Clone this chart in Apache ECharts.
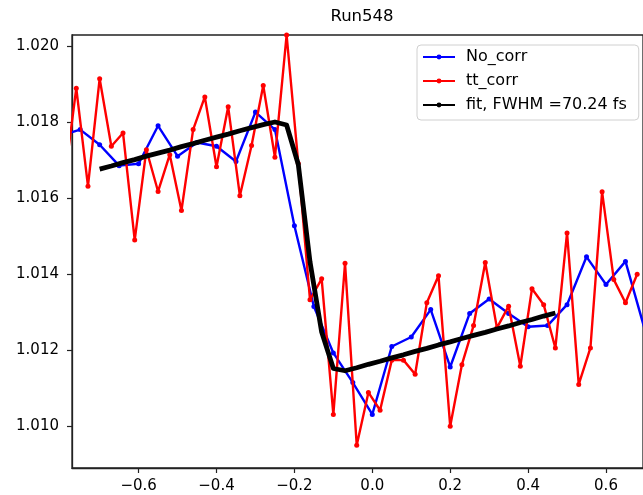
<!DOCTYPE html>
<html>
<head>
<meta charset="utf-8">
<script src="https://cdn.jsdelivr.net/npm/echarts@6/dist/echarts.min.js"></script>
<style>
html,body{margin:0;padding:0;background:#fff;}
#c{width:643px;height:495px;}
</style>
</head>
<body>
<div id="c"></div>
<script>
// --- data ---
const titleText = 'Run548';
const seriesNames = ['No_corr', 'tt_corr', 'fit, FWHM =70.24 fs'];

const noCorrX = [-0.80,-0.75,-0.70,-0.65,-0.60,-0.55,-0.50,-0.45,-0.40,-0.35,-0.30,-0.25,-0.20,-0.15,-0.10,-0.05,0.00,0.05,0.10,0.15,0.20,0.25,0.30,0.35,0.40,0.45,0.50,0.55,0.60,0.65,0.70];
const noCorrY = [1.01765,1.01781,1.01741,1.01686,1.01691,1.01791,1.01711,1.01747,1.01737,1.01697,1.01827,1.01781,1.01528,1.01315,1.01193,1.01115,1.01031,1.01210,1.01235,1.01307,1.01156,1.01297,1.01335,1.01297,1.01262,1.01265,1.01320,1.01446,1.01373,1.01434,1.01253];

const ttCorrX = [-0.79,-0.76,-0.73,-0.70,-0.67,-0.64,-0.61,-0.58,-0.55,-0.52,-0.49,-0.46,-0.43,-0.40,-0.37,-0.34,-0.31,-0.28,-0.25,-0.22,-0.19,-0.16,-0.13,-0.10,-0.07,-0.04,-0.01,0.02,0.05,0.08,0.11,0.14,0.17,0.20,0.23,0.26,0.29,0.32,0.35,0.38,0.41,0.44,0.47,0.50,0.53,0.56,0.59,0.62,0.65,0.68];
const ttCorrY = [1.01650,1.01890,1.01632,1.01915,1.01737,1.01772,1.01490,1.01728,1.01618,1.01715,1.01568,1.01781,1.01867,1.01683,1.01841,1.01607,1.01739,1.01897,1.01708,1.02030,1.01692,1.01333,1.01388,1.01031,1.01429,1.00950,1.01089,1.01042,1.01174,1.01174,1.01137,1.01325,1.01396,1.01000,1.01162,1.01265,1.01431,1.01259,1.01316,1.01158,1.01362,1.01320,1.01206,1.01509,1.01110,1.01206,1.01617,1.01386,1.01325,1.01400];

const fitX = [-0.70,-0.67,-0.64,-0.61,-0.58,-0.55,-0.52,-0.49,-0.46,-0.43,-0.40,-0.37,-0.34,-0.31,-0.28,-0.25,-0.22,-0.19,-0.16,-0.13,-0.10,-0.07,-0.04,-0.01,0.02,0.05,0.08,0.11,0.14,0.17,0.20,0.23,0.26,0.29,0.32,0.35,0.38,0.41,0.44,0.47];
const fitY = [1.01677,1.01685,1.01694,1.01702,1.01711,1.01719,1.01727,1.01736,1.01744,1.01753,1.01761,1.01769,1.01778,1.01786,1.01794,1.01801,1.01793,1.01689,1.01433,1.01248,1.01152,1.01146,1.01154,1.01163,1.01171,1.01180,1.01188,1.01197,1.01205,1.01214,1.01222,1.01231,1.01239,1.01247,1.01256,1.01264,1.01273,1.01281,1.01290,1.01298];

const xTicks = [-0.6,-0.4,-0.2,0.0,0.2,0.4,0.6];
const yTicks = [1.010,1.012,1.014,1.016,1.018,1.020];

const pairs = (xs, ys) => xs.map((x, i) => [x, ys[i]]);

const FONT = 'DejaVu Sans';
const chart = echarts.init(document.getElementById('c'), null, {renderer: 'canvas'});
const fmtX = v => { const r = Math.round(v * 10) / 10; return (r < 0 ? '\u2212' : '') + Math.abs(r).toFixed(1); };

chart.setOption({
  animation: false,
  backgroundColor: '#ffffff',
  title: {
    text: titleText,
    left: 357, top: 3,
    textAlign: 'center',
    textStyle: {fontFamily: FONT, fontSize: 16.5, fontWeight: 'normal', color: '#000'}
  },
  legend: {
    orient: 'vertical',
    left: 417, top: 45,
    padding: [4, 12, 7, 5],
    itemGap: 8,
    itemWidth: 32, itemHeight: 6,
    backgroundColor: 'rgba(255,255,255,0.85)',
    borderColor: '#d0d0d0', borderWidth: 1, borderRadius: 4,
    textStyle: {fontFamily: FONT, fontSize: 16, color: '#000', padding: [0, 0, 0, 6]},
    data: seriesNames
  },
  grid: {
    left: 72, top: 35, right: -1, bottom: 27,
    show: true, borderColor: '#222', borderWidth: 1.3, containLabel: false
  },
  xAxis: {
    type: 'value', min: -0.771, max: 0.695,
    axisLine: {show: true, onZero: false, lineStyle: {color: '#222', width: 1.3}},
    axisTick: {show: true, inside: false, length: 5, lineStyle: {color: '#222', width: 1.2}, customValues: xTicks},
    axisLabel: {show: true, margin: 11, fontFamily: FONT, fontSize: 15, color: '#000', customValues: xTicks, formatter: fmtX},
    splitLine: {show: false}
  },
  yAxis: {
    type: 'value', min: 1.0089, max: 1.0203,
    axisLine: {show: true, onZero: false, lineStyle: {color: '#222', width: 1.3}},
    axisTick: {show: true, inside: false, length: 5, lineStyle: {color: '#222', width: 1.2}, customValues: yTicks},
    axisLabel: {show: true, margin: 13, fontFamily: FONT, fontSize: 15, color: '#000', customValues: yTicks, formatter: v => v.toFixed(3)},
    splitLine: {show: false}
  },
  series: [
    {
      name: seriesNames[0], type: 'line', data: pairs(noCorrX, noCorrY),
      symbol: 'circle', symbolSize: 5, showAllSymbol: true,
      lineStyle: {color: '#0000ff', width: 2.4},
      itemStyle: {color: '#0000ff'},
      emphasis: {disabled: true}, z: 2
    },
    {
      name: seriesNames[1], type: 'line', data: pairs(ttCorrX, ttCorrY),
      symbol: 'circle', symbolSize: 5, showAllSymbol: true,
      lineStyle: {color: '#ff0000', width: 2.4},
      itemStyle: {color: '#ff0000'},
      emphasis: {disabled: true}, z: 3
    },
    {
      name: seriesNames[2], type: 'line', data: pairs(fitX, fitY),
      symbol: 'none', showSymbol: false,
      lineStyle: {color: '#000000', width: 4.8, join: 'round'},
      itemStyle: {color: '#000000'},
      emphasis: {disabled: true}, z: 4
    }
  ]
});
</script>
</body>
</html>
